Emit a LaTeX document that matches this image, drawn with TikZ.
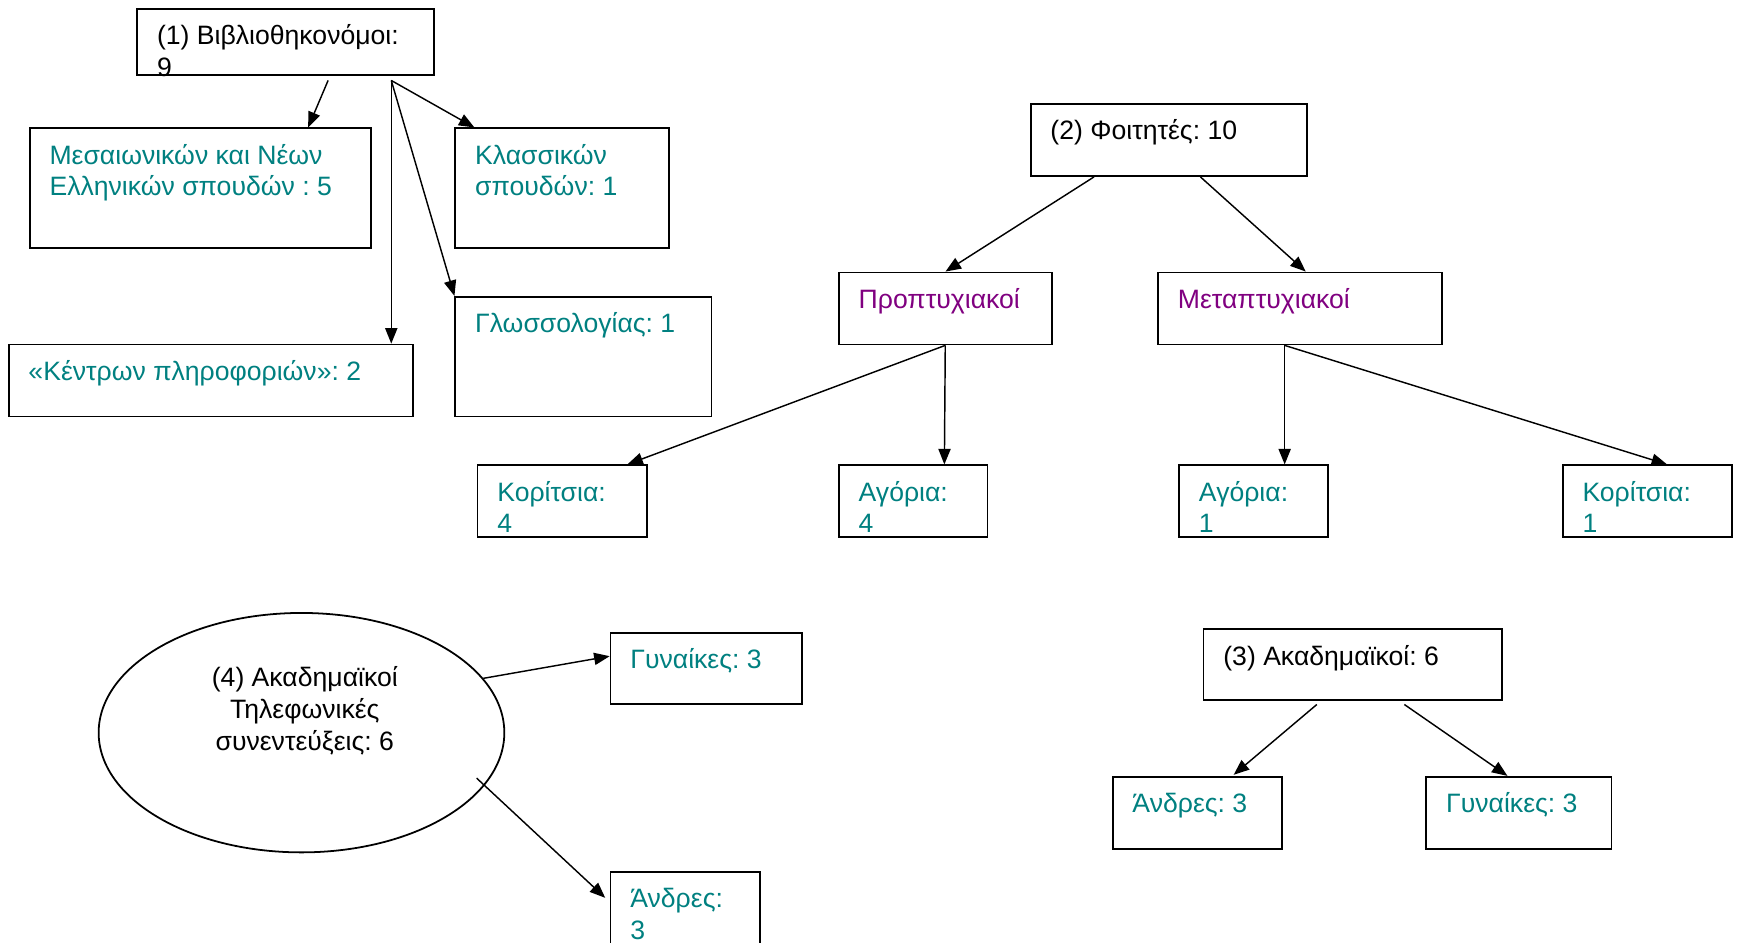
\documentclass[tikz,border=0pt]{standalone}
\usepackage{fontspec}
\setmainfont{Liberation Sans}
\usetikzlibrary{arrows.meta,calc,shapes.geometric}
\definecolor{tealtxt}{RGB}{0,128,128}
\definecolor{purptxt}{RGB}{128,0,128}
\frenchspacing
\begin{document}
\begin{tikzpicture}[x=1pt,y=-1pt,
  box/.style={draw, line width=1.6pt, inner sep=0pt, anchor=north west},
  txt/.style={font=\fontsize{24}{28.5}\selectfont, align=left, anchor=north west, inner sep=0pt},
  tl/.style={txt, text=tealtxt},
  pl/.style={txt, text=purptxt},
  arr/.style={line width=1.3pt, -{Triangle[length=14pt,width=11pt]}}]
\useasboundingbox (0,0) rectangle (1568,850);

% group 1
\node[box, minimum width=268pt, minimum height=60pt] (b1) at (123,7) {};
\node[txt] (t1) at ($(b1.north west)+(18.5,13)$) {\strut(1) Βιβλιοθηκονόμοι:\\9};
\node[box, minimum width=308pt, minimum height=108pt] (mes) at (26,115) {};
\node[tl] (tmes) at ($(mes.north west)+(18.5,13)$) {\strut Μεσαιωνικών και Νέων\\Ελληνικών σπουδών : 5};
\node[box, minimum width=193pt, minimum height=108pt] (klass) at (410,115) {};
\node[tl] (tklass) at ($(klass.north west)+(18.5,13)$) {\strut Κλασσικών\\σπουδών: 1};
\node[box, minimum width=365pt, minimum height=65pt] (kentron) at (7,310) {};
\node[tl] (tkentron) at ($(kentron.north west)+(18.5,13)$) {\strut«Κέντρων πληροφοριών»: 2};
\node[box, minimum width=231pt, minimum height=108pt] (gloss) at (410,267) {};
\node[tl] (tgloss) at ($(gloss.north west)+(18.5,13)$) {\strut Γλωσσολογίας: 1};

\coordinate (s1a) at ($(b1.south west)+(173,4)$);
\coordinate (s1b) at ($(b1.south west)+(230,4)$);
\draw[arr] (s1a) -- ($(mes.north west)+(252,0)$);
\draw[arr] (s1b) -- ($(kentron.north west)+(346,0)$);
\draw[arr] (s1b) -- (gloss.north west);
\draw[arr] (s1b) -- ($(klass.north west)+(18,0)$);

% group 2
\node[box, minimum width=249pt, minimum height=65pt] (b2) at (929,93) {};
\node[txt] (t2) at ($(b2.north west)+(18.5,13)$) {\strut(2) Φοιτητές: 10};
\node[box, minimum width=192pt, minimum height=65pt] (propt) at (756,245) {};
\node[pl] (tpropt) at ($(propt.north west)+(18.5,13)$) {\strut Προπτυχιακοί};
\node[box, minimum width=256pt, minimum height=65pt] (metapt) at (1044,245) {};
\node[pl] (tmetapt) at ($(metapt.north west)+(18.5,13)$) {\strut Μεταπτυχιακοί};
\node[box, minimum width=153pt, minimum height=65pt] (kor1) at (430,419) {};
\node[tl] (tkor1) at ($(kor1.north west)+(18.5,13)$) {\strut Κορίτσια:\\4};
\node[box, minimum width=134pt, minimum height=65pt] (ag1) at (756,419) {};
\node[tl] (tag1) at ($(ag1.north west)+(18.5,13)$) {\strut Αγόρια:\\4};
\node[box, minimum width=134pt, minimum height=65pt] (ag2) at (1063,419) {};
\node[tl] (tag2) at ($(ag2.north west)+(18.5,13)$) {\strut Αγόρια:\\1};
\node[box, minimum width=153pt, minimum height=65pt] (kor2) at (1409,419) {};
\node[tl] (tkor2) at ($(kor2.north west)+(18.5,13)$) {\strut Κορίτσια:\\1};

\draw[arr] ($(b2.south west)+(58,0)$) -- ($(propt.north west)+(97,0)$);
\draw[arr] ($(b2.south west)+(154,0)$) -- ($(metapt.north west)+(134,0)$);
\draw[arr] (propt.south) -- ($(kor1.north west)+(136,0)$);
\draw[arr] (propt.south) -- ($(ag1.north west)+(96,0)$);
\draw[arr] ($(metapt.south west)+(115,0)$) -- ($(ag2.north west)+(96,0)$);
\draw[arr] ($(metapt.south west)+(115,0)$) -- ($(kor2.north west)+(95,0)$);

% group 4
\node[ellipse, draw, line width=1.6pt, inner sep=0pt, minimum width=366pt, minimum height=216pt] (ell) at (272,661) {};
\node[font=\fontsize{24}{28.5}\selectfont, align=center, anchor=north, inner sep=0pt] (tell) at (275,599.5) {\strut(4) Ακαδημαϊκοί\\Τηλεφωνικές\\συνεντεύξεις: 6};
\node[box, minimum width=173pt, minimum height=64pt] (gyn1) at (550,570) {};
\node[tl] (tgyn1) at ($(gyn1.north west)+(18.5,13)$) {\strut Γυναίκες: 3};
\node[box, minimum width=135pt, minimum height=80pt] (andr1) at (550,786) {};
\node[tl] (tandr1) at ($(andr1.north west)+(18.5,13)$) {\strut Άνδρες:\\3};
\draw[arr] ($(ell.center)+(164,-49)$) -- ($(gyn1.north west)+(0,22)$);
\draw[arr] ($(ell.center)+(158,41)$) -- ($(andr1.north west)+(-4,24)$);

% group 3
\node[box, minimum width=269pt, minimum height=64pt] (b3) at (1085,567) {};
\node[txt] (t3) at ($(b3.north west)+(18.5,13)$) {\strut(3) Ακαδημαϊκοί: 6};
\node[box, minimum width=153pt, minimum height=65pt] (andr2) at (1003,700) {};
\node[tl] (tandr2) at ($(andr2.north west)+(18.5,13)$) {\strut Άνδρες: 3};
\node[box, minimum width=167pt, minimum height=65pt] (gyn2) at (1286,700) {};
\node[tl] (tgyn2) at ($(gyn2.north west)+(18.5,13)$) {\strut Γυναίκες: 3};
\draw[arr] ($(b3.south west)+(103,3)$) -- ($(andr2.north west)+(110,-1)$);
\draw[arr] ($(b3.south west)+(182,3)$) -- ($(gyn2.north west)+(74,0)$);
\end{tikzpicture}
\end{document}
